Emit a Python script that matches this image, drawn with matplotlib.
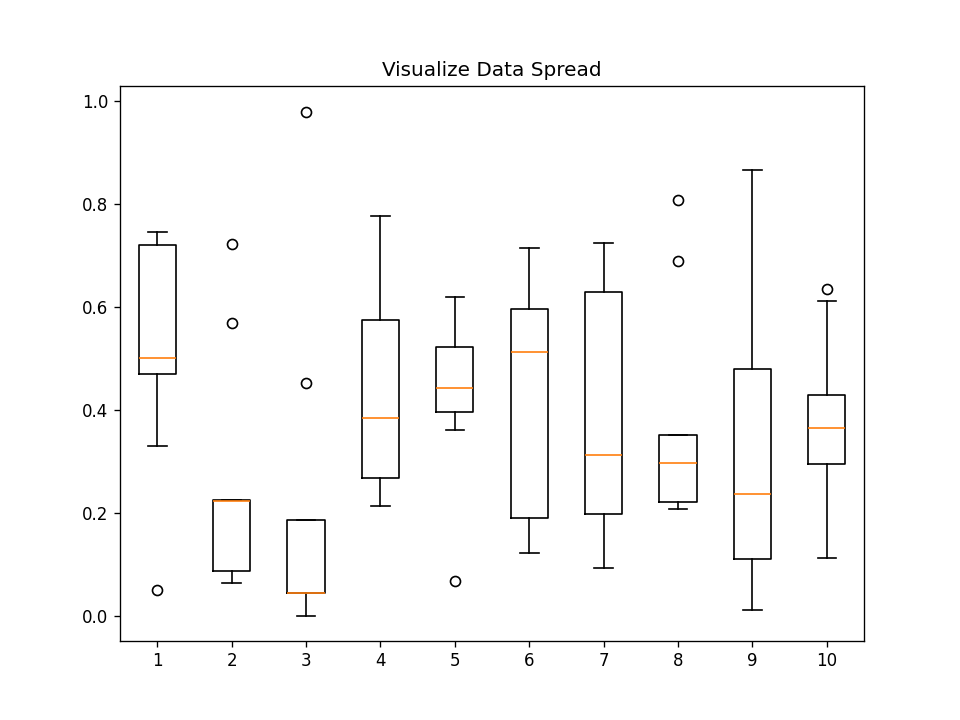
import matplotlib
matplotlib.use('Agg')
import matplotlib.pyplot as plt

# five-number summaries
whislo = [0.33, 0.063, 0.0, 0.214, 0.36, 0.122, 0.092, 0.207, 0.01, 0.112]
q1 = [0.47, 0.087, 0.043, 0.267, 0.395, 0.19, 0.198, 0.22, 0.11, 0.294]
med = [0.50, 0.222, 0.043, 0.384, 0.443, 0.513, 0.312, 0.296, 0.237, 0.365]
q3 = [0.72, 0.224, 0.185, 0.574, 0.523, 0.596, 0.629, 0.352, 0.48, 0.428]
whishi = [0.745, 0.224, 0.185, 0.777, 0.62, 0.714, 0.725, 0.352, 0.867, 0.612]
fliers = [[0.05], [0.568, 0.723], [0.453, 0.98], [], [0.068], [], [], [0.69, 0.808], [], [0.636]]

stats = []
for i in range(len(med)):
    stats.append({'whislo': whislo[i], 'q1': q1[i], 'med': med[i], 'q3': q3[i],
                  'whishi': whishi[i], 'fliers': fliers[i]})

fig, ax = plt.subplots(figsize=(8, 6), dpi=120)
ax.bxp(stats)
ax.set_title('Visualize Data Spread')
fig.savefig('out.png')
